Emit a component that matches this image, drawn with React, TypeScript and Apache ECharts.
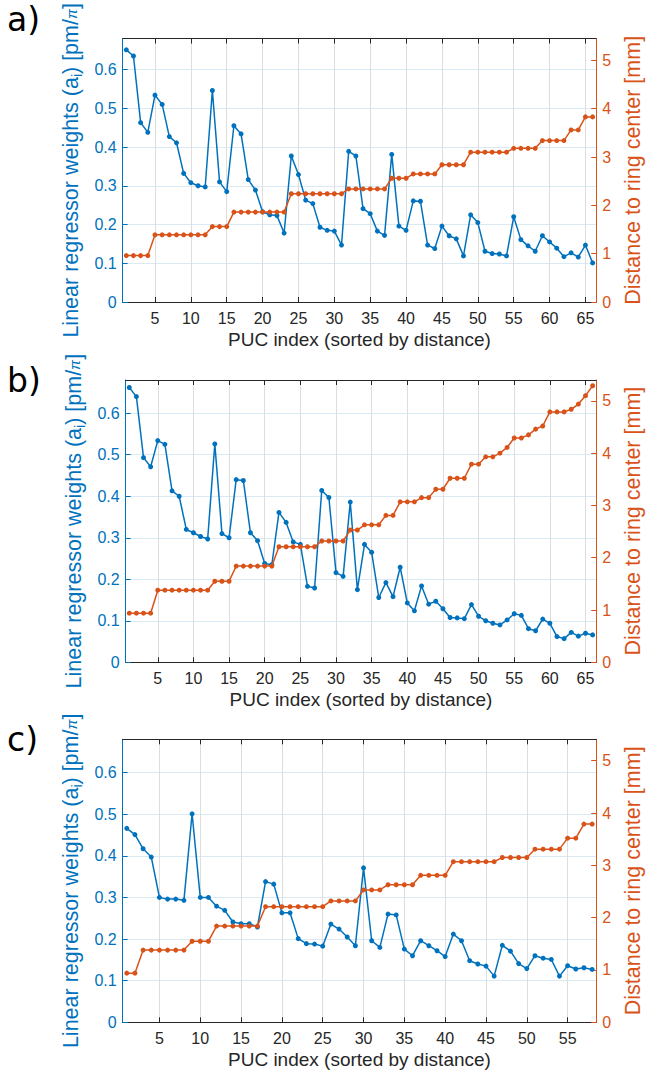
import React, { useEffect, useRef } from "react";
import * as echarts from "echarts";

const BLUE = "#0072BD";
const ORANGE = "#D95319";
const DARK = "#262626";

// ---- data ----
const weightsA = [
  0.651, 0.635, 0.463, 0.438, 0.534, 0.51, 0.427, 0.411, 0.332, 0.308,
  0.3, 0.297, 0.546, 0.31, 0.285, 0.455, 0.434, 0.316, 0.289, 0.233,
  0.225, 0.223, 0.178, 0.377, 0.329, 0.263, 0.254, 0.193, 0.185, 0.183,
  0.147, 0.389, 0.377, 0.241, 0.228, 0.183, 0.172, 0.381, 0.196, 0.185,
  0.261, 0.26, 0.147, 0.138, 0.196, 0.171, 0.163, 0.119, 0.225, 0.205,
  0.131, 0.125, 0.124, 0.119, 0.22, 0.161, 0.145, 0.131, 0.171, 0.155,
  0.139, 0.117, 0.127, 0.116, 0.147, 0.101,
];
const distA = [
  0.96, 0.96, 0.96, 0.96, 1.39, 1.39, 1.39, 1.39, 1.39, 1.39,
  1.39, 1.39, 1.56, 1.56, 1.56, 1.86, 1.86, 1.86, 1.86, 1.86,
  1.86, 1.86, 1.86, 2.24, 2.24, 2.24, 2.24, 2.24, 2.24, 2.24,
  2.24, 2.34, 2.34, 2.34, 2.34, 2.34, 2.34, 2.56, 2.56, 2.56,
  2.65, 2.65, 2.65, 2.65, 2.84, 2.84, 2.84, 2.84, 3.1, 3.1,
  3.1, 3.1, 3.1, 3.1, 3.18, 3.18, 3.18, 3.18, 3.34, 3.34,
  3.34, 3.34, 3.56, 3.56, 3.83, 3.83,
];
const weightsB = [
  0.662, 0.64, 0.493, 0.471, 0.534, 0.525, 0.413, 0.4, 0.32, 0.312,
  0.303, 0.297, 0.526, 0.31, 0.3, 0.44, 0.438, 0.312, 0.293, 0.238,
  0.235, 0.361, 0.337, 0.29, 0.284, 0.183, 0.179, 0.414, 0.397, 0.216,
  0.207, 0.386, 0.175, 0.284, 0.265, 0.156, 0.192, 0.158, 0.229, 0.143,
  0.124, 0.184, 0.14, 0.147, 0.129, 0.108, 0.107, 0.105, 0.139, 0.111,
  0.1, 0.094, 0.09, 0.102, 0.117, 0.113, 0.081, 0.076, 0.104, 0.094,
  0.062, 0.057, 0.072, 0.063, 0.07, 0.066,
];
const distB = [
  0.94, 0.94, 0.94, 0.94, 1.38, 1.38, 1.38, 1.38, 1.38, 1.38,
  1.38, 1.38, 1.55, 1.55, 1.55, 1.84, 1.84, 1.84, 1.84, 1.84,
  1.84, 2.21, 2.21, 2.21, 2.21, 2.21, 2.21, 2.32, 2.32, 2.32,
  2.32, 2.53, 2.53, 2.63, 2.63, 2.63, 2.81, 2.81, 3.07, 3.07,
  3.07, 3.15, 3.15, 3.31, 3.31, 3.52, 3.52, 3.52, 3.79, 3.79,
  3.93, 3.93, 4.0, 4.11, 4.29, 4.29, 4.35, 4.46, 4.52, 4.79,
  4.79, 4.79, 4.84, 4.94, 5.1, 5.29,
];
const weightsC = [
  0.466, 0.451, 0.417, 0.397, 0.3, 0.296, 0.296, 0.293, 0.501, 0.3,
  0.3, 0.279, 0.269, 0.241, 0.237, 0.237, 0.229, 0.338, 0.332, 0.263,
  0.263, 0.201, 0.189, 0.188, 0.183, 0.236, 0.224, 0.205, 0.184, 0.371,
  0.196, 0.18, 0.26, 0.258, 0.176, 0.16, 0.196, 0.184, 0.172, 0.158,
  0.212, 0.196, 0.148, 0.14, 0.135, 0.111, 0.185, 0.171, 0.141, 0.129,
  0.16, 0.154, 0.151, 0.111, 0.136, 0.128, 0.131, 0.127,
];
const distC = [
  0.94, 0.94, 1.38, 1.38, 1.38, 1.38, 1.38, 1.38, 1.55, 1.55,
  1.55, 1.84, 1.84, 1.84, 1.84, 1.84, 1.84, 2.21, 2.21, 2.21,
  2.21, 2.21, 2.21, 2.21, 2.21, 2.32, 2.32, 2.32, 2.32, 2.53,
  2.53, 2.53, 2.63, 2.63, 2.63, 2.63, 2.81, 2.81, 2.81, 2.81,
  3.07, 3.07, 3.07, 3.07, 3.07, 3.07, 3.15, 3.15, 3.15, 3.15,
  3.31, 3.31, 3.31, 3.31, 3.52, 3.52, 3.79, 3.79,
];
const xTicks66 = [5, 10, 15, 20, 25, 30, 35, 40, 45, 50, 55, 60, 65];
const xTicks58 = [5, 10, 15, 20, 25, 30, 35, 40, 45, 50, 55];
const leftTicks = [0, 0.1, 0.2, 0.3, 0.4, 0.5, 0.6];
const rightTicks = [0, 1, 2, 3, 4, 5];
const panelLabels = ["a)", "b)", "c)"];

const xTitle = "PUC index (sorted by distance)";
const leftTitle = "Linear regressor weights (a{s|i}) [pm/{p|π}]";
const rightTitle = "Distance to ring center [mm]";

const FONT = "Liberation Sans";
const TICK_FS = 16;
const TITLE_FS = 19;
const YTITLE_FS = 21.5;

const panels = [
  { w: weightsA, d: distA, n: 66, ticks: xTicks66, left: 122.7, top: 19, width: 492.3, height: 283, rmax: 5.45, labelTop: 3 },
  { w: weightsB, d: distB, n: 66, ticks: xTicks66, left: 125.7, top: 380, width: 492, height: 282.3, rmax: 5.4, labelTop: 364 },
  { w: weightsC, d: distC, n: 58, ticks: xTicks58, left: 122.7, top: 739.3, width: 493, height: 283, rmax: 5.41, labelTop: 723 },
];

export default function App() {
  const ref = useRef<HTMLDivElement>(null);
  useEffect(() => {
    document.body.style.margin = "0";
    const chart = echarts.init(ref.current!, undefined, { renderer: "svg" });
    const grid: any[] = [];
    const xAxis: any[] = [];
    const yAxis: any[] = [];
    const series: any[] = [];
    const graphic: any[] = [];
    panels.forEach((p, i) => {
      grid.push({ left: p.left, top: p.top, width: p.width, height: p.height, containLabel: false });
      const xmax = p.n + 0.5;
      xAxis.push({
        gridIndex: i, type: "value", min: 0.5, max: xmax, position: "bottom",
        axisLine: { show: true, onZero: false, lineStyle: { color: DARK, width: 1 } },
        axisTick: { show: true, inside: true, length: 5, customValues: p.ticks, lineStyle: { color: DARK } },
        axisLabel: { customValues: p.ticks, color: DARK, fontSize: TICK_FS, fontFamily: FONT, margin: 8 },
        splitLine: { show: true, lineStyle: { color: "#dedede", width: 1 } },
        name: xTitle, nameLocation: "middle", nameGap: 28,
        nameTextStyle: { color: DARK, fontSize: TITLE_FS, fontFamily: FONT },
      });
      xAxis.push({
        gridIndex: i, type: "value", min: 0.5, max: xmax, position: "top",
        axisLine: { show: true, onZero: false, lineStyle: { color: DARK, width: 1 } },
        axisTick: { show: true, inside: true, length: 5, customValues: p.ticks, lineStyle: { color: DARK } },
        axisLabel: { show: false },
        splitLine: { show: false },
      });
      yAxis.push({
        gridIndex: i, type: "value", min: 0, max: 0.68, position: "left",
        axisLine: { show: true, onZero: false, lineStyle: { color: BLUE, width: 1 } },
        axisTick: { show: true, inside: true, length: 5, customValues: leftTicks, lineStyle: { color: BLUE } },
        axisLabel: { customValues: leftTicks, color: BLUE, fontSize: TICK_FS, fontFamily: FONT, margin: 6 },
        splitLine: { show: true, lineStyle: { color: "#d9eaf5", width: 1 } },
        name: leftTitle, nameLocation: "middle", nameGap: 34, nameRotate: 90,
        nameTextStyle: {
          color: BLUE, fontSize: YTITLE_FS, fontFamily: FONT,
          rich: {
            s: { color: BLUE, fontSize: 14, fontFamily: FONT, padding: [11, 0, 0, 0] },
            p: { color: BLUE, fontSize: 15, fontFamily: FONT, fontStyle: "italic" },
          },
        },
      });
      yAxis.push({
        gridIndex: i, type: "value", min: 0, max: p.rmax, position: "right",
        axisLine: { show: true, onZero: false, lineStyle: { color: ORANGE, width: 1 } },
        axisTick: { show: true, inside: true, length: 5, customValues: rightTicks, lineStyle: { color: ORANGE } },
        axisLabel: { customValues: rightTicks, color: ORANGE, fontSize: TICK_FS, fontFamily: FONT, margin: 6 },
        splitLine: { show: false },
        name: rightTitle, nameLocation: "middle", nameGap: 16, nameRotate: 90,
        nameTextStyle: { color: ORANGE, fontSize: YTITLE_FS, fontFamily: FONT },
      });
      series.push({
        type: "line", xAxisIndex: 2 * i, yAxisIndex: 2 * i,
        data: p.w.map((v, k) => [k + 1, v]),
        symbol: "circle", symbolSize: 5, showSymbol: true,
        lineStyle: { color: BLUE, width: 1.5 }, itemStyle: { color: BLUE },
        z: 2,
      });
      series.push({
        type: "line", xAxisIndex: 2 * i, yAxisIndex: 2 * i + 1,
        data: p.d.map((v, k) => [k + 1, v]),
        symbol: "circle", symbolSize: 5, showSymbol: true,
        lineStyle: { color: ORANGE, width: 1.5 }, itemStyle: { color: ORANGE },
        z: 3,
      });
      graphic.push({
        type: "text", left: 7, top: p.labelTop,
        style: { text: panelLabels[i], fontSize: 33, fontFamily: "DejaVu Sans", fill: "#000" },
      });
    });
    chart.setOption({
      animation: false,
      backgroundColor: "#fff",
      grid, xAxis, yAxis, series, graphic,
    });
    return () => chart.dispose();
  }, []);
  return <div ref={ref} style={{ width: 652, height: 1074 }} />;
}
